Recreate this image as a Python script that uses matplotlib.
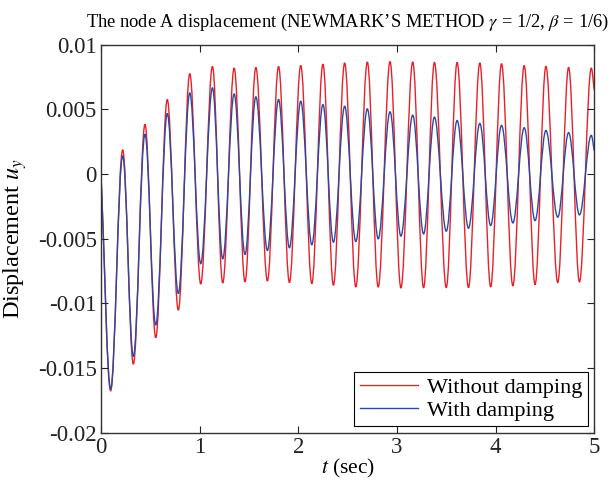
import matplotlib
matplotlib.use('Agg')
import matplotlib.pyplot as plt
from matplotlib.path import Path
from matplotlib.patches import PathPatch
from matplotlib.lines import Line2D

plt.rcParams['font.family'] = ['Liberation Serif', 'DejaVu Serif']
plt.rcParams['mathtext.fontset'] = 'stix'
plt.rcParams['axes.unicode_minus'] = False

# extrema (peaks and troughs), start at (0, 0)
t_red = [0, 0.098, 0.22, 0.328, 0.446, 0.555, 0.672, 0.784, 0.90, 1.011, 1.13,
         1.234, 1.35, 1.46, 1.57, 1.687, 1.80, 1.91, 2.025, 2.137, 2.25, 2.356,
         2.47, 2.583, 2.70, 2.81, 2.93, 3.04, 3.16, 3.27, 3.38, 3.50, 3.61,
         3.725, 3.84, 3.95, 4.06, 4.175, 4.29, 4.40, 4.51, 4.63, 4.74, 4.85,
         4.97, 5.0]
u_red = [0, -0.01675, 0.00187, -0.01469, 0.00385, -0.01264, 0.00577, -0.01051,
         0.00777, -0.00849, 0.00833, -0.00841, 0.0082, -0.00833, 0.00825,
         -0.00826, 0.00833, -0.00838, 0.0084, -0.00846, 0.0085, -0.00859,
         0.0086, -0.00872, 0.00867, -0.00872, 0.0087, -0.00879, 0.00867,
         -0.00879, 0.00864, -0.00877, 0.00864, -0.00877, 0.0086, -0.00872,
         0.00854, -0.00864, 0.0084, -0.00854, 0.00833, -0.00838, 0.00826,
         -0.00833, 0.0082, 0.0065]

t_blue = t_red
u_blue = [0, -0.01659, 0.00141, -0.0141, 0.00308, -0.01167, 0.00469, -0.00923,
          0.00628, -0.00692, 0.00667, -0.00654, 0.0062, -0.00621, 0.00598,
          -0.0059, 0.00577, -0.00569, 0.00564, -0.00546, 0.00538, -0.00526,
          0.00525, -0.00521, 0.00505, -0.005, 0.00482, -0.00479, 0.00456,
          -0.00462, 0.00441, -0.00441, 0.00415, -0.00418, 0.00392, -0.00397,
          0.00377, -0.00377, 0.00359, -0.00359, 0.00338, -0.00333, 0.00321,
          -0.00315, 0.003, 0.0018]

yticks = [-0.02, -0.015, -0.01, -0.005, 0, 0.005, 0.01]
ylabels = ['-0.02', '-0.015', '-0.01', '-0.005', '0', '0.005', '0.01']
xticks = [0, 1, 2, 3, 4, 5]

red = '#e8202a'
blue = '#2c4aa2'


def smooth_line(ax, t, u, color):
    # draw through the extrema with bezier segments (flat at each extremum)
    verts = [(t[0], u[0])]
    codes = [Path.MOVETO]
    n = len(t)
    for i in range(n - 1):
        d = 0.364 * (t[i + 1] - t[i])
        du = u[i + 1] - u[i]
        # end points are not extrema: aim the handle along the chord there
        c1 = (t[i] + d, u[i] + 0.364 * du) if i == 0 else (t[i] + d, u[i])
        c2 = (t[i + 1] - d, u[i + 1] - 0.364 * du) if i == n - 2 else (t[i + 1] - d, u[i + 1])
        verts += [c1, c2, (t[i + 1], u[i + 1])]
        codes += [Path.CURVE4] * 3
    ax.add_patch(PathPatch(Path(verts, codes), fill=False, edgecolor=color, lw=1.0))


fig = plt.figure(figsize=(6.12, 4.82), dpi=100)
ax = fig.add_axes([0.165, 0.102, 0.806, 0.805])

smooth_line(ax, t_red, u_red, red)
smooth_line(ax, t_blue, u_blue, blue)

ax.set_xlim(0, 5)
ax.set_ylim(-0.02, 0.01)
ax.set_xticks(xticks)
ax.set_xticklabels([str(x) for x in xticks])
ax.set_yticks(yticks)
ax.set_yticklabels(ylabels)
ax.tick_params(direction='in', top=True, right=True, labelsize=16.5, length=5,
               width=0.8, colors='#222222', pad=3)
for s in ax.spines.values():
    s.set_color('#333333')
    s.set_linewidth(1.0)

ax.set_xlabel('$t$ (sec)', fontsize=15.5, labelpad=-1)
ax.set_ylabel('Displacement $u_y$', fontsize=17.5, labelpad=6)
ax.set_title("The node A displacement (NEWMARK\u2019S METHOD $\\gamma$ = 1/2, $\\beta$ = 1/6)",
             fontsize=13.3, pad=13)

handles = [Line2D([], [], color=red, lw=1.0), Line2D([], [], color=blue, lw=1.0)]
leg = ax.legend(handles, ['Without damping', 'With damping'], loc='lower right',
                fontsize=16, fancybox=False, framealpha=1, edgecolor='black',
                borderpad=0.25, handlelength=2.6, handletextpad=0.4,
                labelspacing=0.1, borderaxespad=0.3)
leg.get_frame().set_linewidth(0.8)

fig.savefig('out.png', dpi=100)
